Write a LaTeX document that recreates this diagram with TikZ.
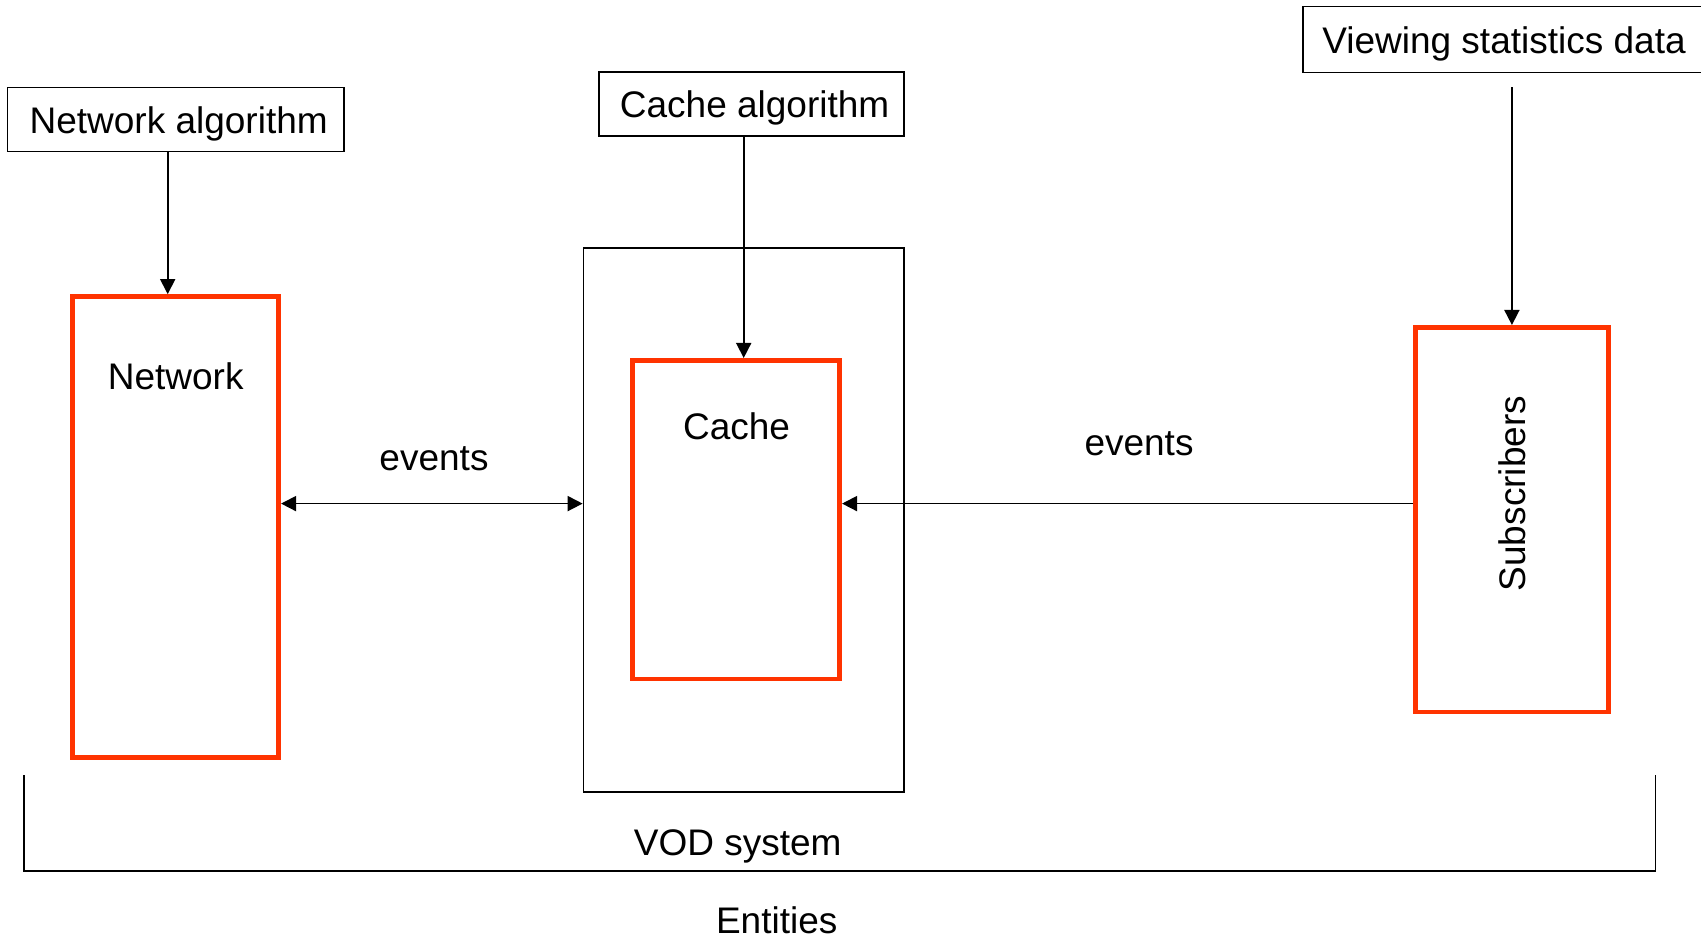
\documentclass[tikz,border=0pt]{standalone}
\usepackage{fontspec}
\setmainfont{Liberation Sans}
\usepackage{xcolor}
\usetikzlibrary{
  arrows.meta
}
\definecolor{entityred}{RGB}{255,51,0}

\begin{document}
\begin{tikzpicture}[
    x=0.5pt, y=-0.5pt,
    >={Triangle[length=7.5pt,width=7.5pt]},
  every node/.style = {font=\fontsize{18.5}{22}\selectfont, align=center}]
    \tikzstyle{algo}=[draw, line width=0.8pt, minimum height=32pt, text height=18pt, text depth=4pt]
    \tikzstyle{entity}=[draw=entityred, line width=2.35pt]
    \tikzstyle{link}=[line width=0.85pt]
    \tikzstyle{plain}=[inner sep=0pt]
    \useasboundingbox (0,0) rectangle (1701,940);
  % inputs on top
  \node[algo, minimum width=168.25pt] (netalg) at (175.7,119.7) {\hspace*{3pt}Network algorithm};
  \node[algo, minimum width=152.35pt] (cachealg) at (751.6,103.8) {\hspace*{3pt}Cache algorithm};
  \node[algo, minimum width=201pt, minimum height=33pt] (viewstat) at (1504,39.7) {Viewing statistics data};
  % entities
  \node[draw, line width=0.8pt, minimum width=160.25pt, minimum height=272pt] (vod) at (743.7,520) {};
  \node[entity, minimum width=103pt, minimum height=230.5pt] (net) at (175.7,527) {};
  \node[entity, minimum width=103.7pt, minimum height=159.35pt] (cache) at (736,519.7) {};
  \node[entity, minimum width=96.5pt, minimum height=192.35pt] (subs) at (1511.9,519.7) {};
  \node[plain] (netlbl) at (175.7,376.4) {Network};
  \node[plain] (cachelbl) at (736.6,426) {Cache};
  \node[plain, rotate=90] (subslbl) at (1512,493.6) {Subscribers};
  % connectors
  \coordinate (evy) at (0,503.6);
  \draw[->, link] ([xshift=-4pt]netalg.south) -- ([xshift=-4pt]net.north);
  \draw[->, link] (cachealg.south -| vod.north) -- (cache.north -| vod.north);
  \draw[->, link] ([yshift=-7pt]viewstat.south -| subs.north) -- (subs.north);
  \draw[<->, link] (net.east |- evy) -- (vod.west |- evy);
  \draw[->, link] (subs.west |- evy) -- (cache.east |- evy);
  \node[plain] (evleft) at (434,458.5) {events};
  \node[plain] (evright) at (1139,443.5) {events};
  % bracket
  \coordinate (brtl) at (24,775);
  \coordinate (brbl) at (24,871);
  \coordinate (brbr) at (1655.5,871);
  \coordinate (brtr) at (1655.5,775);
  \draw[link] (brtl) -- (brbl) -- (brbr) -- (brtr);
  \node[plain] (vodlbl) at (737.7,846.5) {VOD system};
  \node[plain] (entlbl) at (776.7,920) {Entities};
\end{tikzpicture}
\end{document}
